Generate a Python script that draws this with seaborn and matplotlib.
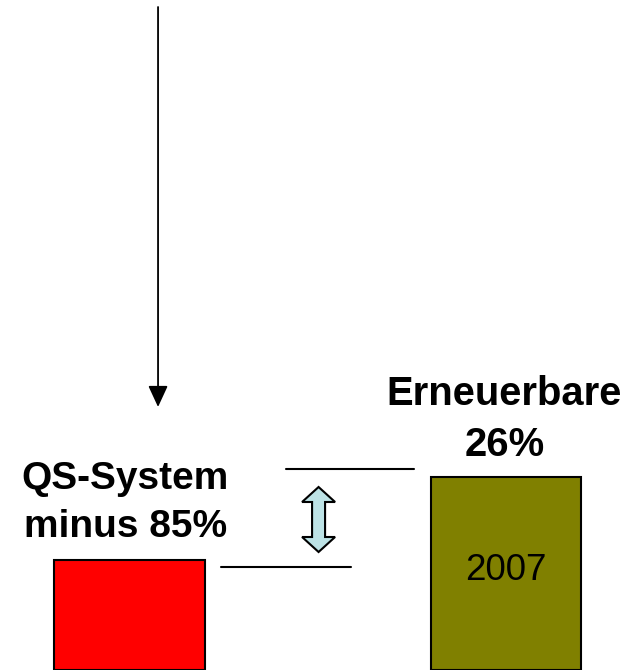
import matplotlib
matplotlib.use("Agg")
import matplotlib.pyplot as plt
import seaborn as sns
import pandas as pd
from matplotlib.patches import Polygon

# Werte (Balkenhöhen, willkürliche Einheiten)
kategorien = ["QS-System", "Erneuerbare"]
werte = [110, 193]
farben = ["#FF0000", "#808000"]
beschriftung = ["QS-System\nminus 85%", "Erneuerbare\n26%"]
jahr = "2007"

sns.set_style("white")
plt.rcParams['font.family'] = ['Liberation Sans', 'DejaVu Sans']
plt.rcParams['text.color'] = 'black'

df = pd.DataFrame({"kat": kategorien, "wert": werte})

fig = plt.figure(figsize=(6.3, 6.7), dpi=100)
ax = fig.add_axes([0, 0, 1, 1])

sns.barplot(data=df, x="kat", y="wert", hue="kat", palette=farben,
            width=0.40, edgecolor="black", linewidth=1.5,
            saturation=1, legend=False, ax=ax)

# Achsen so, dass ein Einheitsschritt ~376 px ist
ax.set_xlim(-0.344, 1.329)
ax.set_ylim(0, 670)
ax.axis("off")

# Hilfsfunktion: Pixel (von oben links) -> Daten
def px(x, y):
    return ((x - 129.5) / 376.5, 670 - y)

# Beschriftungen über den Balken
ax.text(-0.011, werte[0] + 57, beschriftung[0], ha="center", va="center",
        fontsize=28, fontweight="bold", linespacing=1.42, color="black")
ax.text(0.995, werte[1] + 57.5, beschriftung[1], ha="center", va="center",
        fontsize=28.8, fontweight="bold", linespacing=1.42, color="black")
ax.text(1, werte[1] - 93, jahr, ha="center", va="center", fontsize=26.5,
        color="black")

# Horizontale Linien an den Balkenoberkanten
x0, _ = px(286, 0)
x1, _ = px(414, 0)
ax.plot([x0, x1], [werte[1] + 8, werte[1] + 8], color="black", lw=1.5)
x0, _ = px(221, 0)
x1, _ = px(351, 0)
ax.plot([x0, x1], [werte[0] - 7, werte[0] - 7], color="black", lw=1.5)

# Doppelpfeil (Blockpfeil)
cx, top, bot = 318.5, 487, 552
hw, sw, hl = 16.5, 6.5, 15
pts = [(cx, top), (cx + hw, top + hl), (cx + sw, top + hl), (cx + sw, bot - hl),
       (cx + hw, bot - hl), (cx, bot), (cx - hw, bot - hl), (cx - sw, bot - hl),
       (cx - sw, top + hl), (cx - hw, top + hl)]
ax.add_patch(Polygon([px(a, b) for a, b in pts], closed=True,
                     facecolor="#BDE3E6", edgecolor="black", lw=1.5))

# Langer Pfeil von oben
ax.annotate("", xy=px(158, 407), xytext=px(158, 7),
            arrowprops=dict(arrowstyle="-|>,head_length=1.3,head_width=0.6",
                            color="black", lw=1.3, shrinkA=0, shrinkB=0,
                            mutation_scale=10))

fig.savefig("out.png", dpi=100)
